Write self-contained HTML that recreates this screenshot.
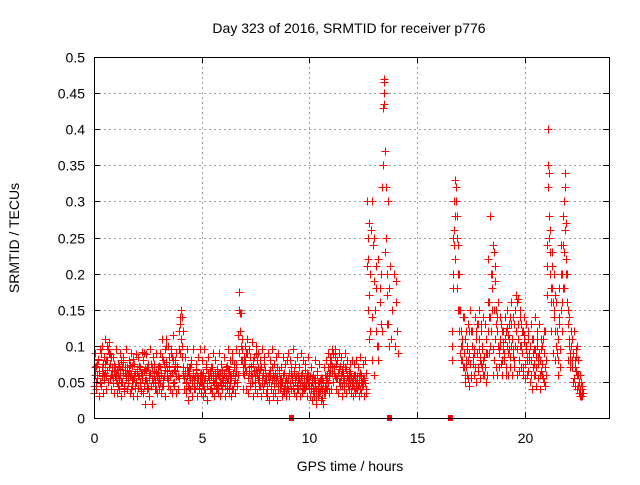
<!DOCTYPE html>
<html><head><meta charset="utf-8"><style>
html,body{margin:0;padding:0;background:#fff;}
svg text{font-family:"Liberation Sans",sans-serif;font-size:14px;fill:#000;}
</style></head><body>
<svg id="chart" width="640" height="480" xmlns="http://www.w3.org/2000/svg">
<rect width="640" height="480" fill="#fff"/>
<text x="349" y="33" text-anchor="middle">Day 323 of 2016, SRMTID for receiver p776</text>
<text x="350" y="471" text-anchor="middle">GPS time / hours</text>
<text x="0" y="0" transform="translate(19,238) rotate(-90)" text-anchor="middle">SRMTID / TECUs</text>
<g id="grid"></g><g id="marks"></g><g id="axes"></g>
</svg>
<script>
const xTicks=[0,5,10,15,20];
const yTicks=[0,0.05,0.1,0.15,0.2,0.25,0.3,0.35,0.4,0.45,0.5];
const yTickLabels=["0","0.05","0.1","0.15","0.2","0.25","0.3","0.35","0.4","0.45","0.5"];
// segment 1: t = 0 .. 12.6 step 0.05, values in milli-TECU
const seg1Start=0;
const seg1A=[45,60,72,55,80,65,50,70,62,85,75,58,66,95,105,88,60,70,55,65,
60,48,75,55,68,80,50,62,45,70,58,66,52,74,60,45,82,55,63,50,
65,42,58,70,38,60,90,52,66,48,75,55,62,45,70,85,58,50,64,48,
55,70,62,45,80,58,95,110,65,52,72,60,85,48,66,75,90,70,58,55,
130,150,100,120,65,50,70,45,60,55,75,48,62,52,40,68,58,45,60,50,
48,62,40,55,70,45,58,52,65,42,60,48,55,50,68,44,58,62,46,55,
50,60,45,72,55,65,48,58,40,62,70,52,75,45,115,175,145,95,70,60,
80,65,90,55,70,85,60,48,75,58,66,80,52,62,45,70,55,60,48,66,
52,40,62,58,45,70,35,55,62,48,58,40,66,52,45,60,42,50,38,48,
55,62,48,70,58,45,65,52,40,60,55,48,58,62,42,50,66,45,55,60,
48,40,55,35,52,45,30,60,42,50,38,55,28,48,60,42,52,70,58,65,
80,72,90,62,58,75,55,68,50,60,45,62,52,70,48,58,45,55,62,50,
55,42,60,48,52,45,58,40,60,50,45,55,62];
const seg1B=[70,50,60,82,65,48,90,58,75,52,62,80,100,70,55,85,60,48,75,58,
52,66,45,72,60,50,78,42,62,55,70,48,65,58,40,72,52,60,45,68,
58,72,48,62,55,80,45,68,52,70,42,60,75,55,48,65,52,40,58,62,
72,48,60,85,52,66,78,55,100,70,58,90,62,80,50,65,58,72,95,140,
110,85,70,55,62,48,58,65,42,70,52,60,45,58,66,48,55,42,50,62,
60,45,52,68,48,62,55,40,58,70,50,46,62,55,42,60,50,48,66,52,
62,48,58,50,68,42,60,55,80,48,58,65,50,60,90,145,100,80,62,75,
70,90,55,62,48,72,58,80,65,50,88,60,70,55,68,48,62,75,52,58,
45,58,50,66,40,52,60,45,55,70,48,62,45,55,50,38,62,45,55,42,
40,48,60,55,42,62,50,58,46,52,70,45,60,48,56,42,55,62,48,50,
58,45,50,42,38,55,40,48,35,52,45,40,50,35,45,55,60,48,62,75,
62,88,70,95,55,80,62,50,72,58,65,55,48,68,60,52,65,48,58,45,
48,60,52,42,58,48,62,50,45,55,52,48,40];
const seg1C=[35,90,40,75,30,95,45,100,35,60,110,40,80,50,90,75,40,85,35,70,
95,35,60,40,90,30,70,85,38,95,40,60,80,35,90,55,30,75,42,88,
30,85,50,40,92,35,65,20,88,40,70,30,95,45,20,75,40,90,35,70,
40,90,35,110,45,75,30,100,45,85,40,95,35,115,45,80,35,70,40,120,
90,140,60,40,85,35,95,25,70,40,80,30,95,40,75,30,85,40,95,35,
80,30,95,35,75,25,85,40,70,35,90,30,80,40,65,35,90,30,75,40,
85,30,70,40,95,35,80,30,90,40,75,35,95,60,150,120,80,110,40,85,
100,40,110,35,95,45,105,30,85,40,100,35,90,45,80,30,95,40,85,35,
30,90,25,80,40,95,30,75,35,85,25,90,40,70,30,85,35,75,30,80,
90,30,80,40,95,35,75,30,85,40,70,30,90,35,80,40,75,30,85,40,
30,70,25,60,30,80,20,65,30,75,25,55,20,70,35,80,40,90,35,85,
40,95,50,85,40,80,35,90,45,85,30,75,40,90,35,80,40,75,35,80,
30,75,35,80,40,70,30,85,35,75,30,80,35];
// burst segment: explicit times and values
const burstT=[12.65,12.7,12.72,12.75,12.8,12.85,12.9,12.95,13.0,13.05,13.1,13.15,13.2,13.25,13.3,13.35,13.4,13.42,13.45,13.47,13.5,13.55,13.6,13.65,13.7,13.8,13.85,13.9,14.0,14.05,14.1,12.7,12.8,12.9,13.0,12.75,13.3,13.5,13.55,13.1,13.2,13.65,13.75,13.6,13.45,13.45,12.68,12.78,12.88,12.98,13.08,13.18,13.28,13.38,13.58,13.68,13.95,14.02];
const burstV=[0.30,0.25,0.22,0.27,0.20,0.26,0.30,0.24,0.19,0.15,0.12,0.10,0.08,0.18,0.20,0.32,0.35,0.43,0.47,0.45,0.37,0.25,0.17,0.13,0.10,0.11,0.15,0.20,0.19,0.12,0.09,0.15,0.12,0.08,0.06,0.11,0.13,0.23,0.32,0.21,0.10,0.30,0.21,0.13,0.435,0.465,0.21,0.17,0.14,0.25,0.18,0.22,0.16,0.12,0.20,0.18,0.10,0.16];
// segment 3: t = 16.6 .. step 0.05
const seg3Start=16.6;
const seg3A=[80,250,300,330,320,280,240,200,150,120,100,
90,110,70,95,80,120,75,60,100,85,90,70,110,130,95,80,75,100,60,85,
70,110,90,220,160,140,180,240,230,190,150,120,100,95,110,130,80,105,90,120,
100,115,95,85,130,110,95,80,100,120,160,165,140,100,90,120,105,75,95,80,
65,90,100,80,70,95,60,85,110,75,90,80,65,100,55,90,120,240,400,340,
260,180,210,160,140,120,100,90,110,130,150,200,240,300,340,270,200,130,110,90,
100,80,90,70,85,60,45,35,40,50,30];
const seg3B=[100,200,260,220,180,150,120,90,80,110,140,
70,60,80,100,55,90,120,100,75,95,140,120,90,70,110,85,130,95,80,70,
90,60,120,140,100,200,150,95,80,110,70,140,90,100,75,120,95,85,110,70,
125,90,110,140,100,85,130,150,120,95,110,80,100,130,90,70,115,100,85,110,
80,100,60,110,90,75,95,70,100,85,60,95,75,110,50,70,60,170,350,250,
200,160,230,150,170,100,120,80,140,95,200,160,180,230,260,220,150,100,80,120,
70,90,55,80,65,100,60,50,30,40,35];
const seg3C=[120,180,240,280,300,250,200,150,100,80,70,
140,50,120,60,130,45,150,55,120,60,140,50,130,65,150,55,120,70,140,60,
130,50,160,90,280,120,200,60,150,210,130,60,160,70,140,60,120,80,140,60,
150,60,130,70,160,60,140,70,170,60,130,65,150,70,120,60,140,55,130,60,
120,50,130,40,110,60,140,45,120,55,130,40,110,60,120,45,80,210,320,280,
230,120,180,90,200,80,160,60,180,70,240,120,280,180,320,200,160,80,140,70,
110,50,120,45,95,40,80,35,60,30,45];
const step=0.05;
const gapMarkT=[9.15,13.7,16.5];

const L=94,R=609,T=57,B=418,XMAX=23.9,YMAX=0.5;
const xs=t=>L+t/XMAX*(R-L);
const ys=v=>B-v/YMAX*(B-T);
const NS="http://www.w3.org/2000/svg";
function mk(tag,attrs,parent){const e=document.createElementNS(NS,tag);for(const k in attrs)e.setAttribute(k,attrs[k]);parent.appendChild(e);return e;}
const grid=document.getElementById('grid'),marks=document.getElementById('marks'),axes=document.getElementById('axes');
yTicks.forEach((v,i)=>{
  const y=Math.round(ys(v))+0.5;
  if(i>0&&i<yTicks.length-1){const g=mk('line',{x1:L,x2:R,y1:y,y2:y,stroke:'#a0a0a0','stroke-dasharray':'2,3'},grid);
  
  }
  mk('line',{x1:L,x2:L+6,y1:y,y2:y,stroke:'#000'},axes);
  mk('line',{x1:R-6,x2:R,y1:y,y2:y,stroke:'#000'},axes);
  const t=mk('text',{x:L-9,y:y+5,'text-anchor':'end'},axes);t.textContent=yTickLabels[i];
  
  
});
xTicks.forEach(v=>{
  const x=Math.round(xs(v))+0.5;
  if(v>0){const g=mk('line',{x1:x,x2:x,y1:T,y2:B,stroke:'#a0a0a0','stroke-dasharray':'2,3'},grid);
  
  }
  mk('line',{x1:x,x2:x,y1:B,y2:B-6,stroke:'#000'},axes);
  mk('line',{x1:x,x2:x,y1:T,y2:T+6,stroke:'#000'},axes);
  const t=mk('text',{x:x,y:B+25,'text-anchor':'middle'},axes);t.textContent=String(v);
  
  
});
const frame=mk('rect',{x:L+0.5,y:T+0.5,width:R-L,height:B-T,fill:'none',stroke:'#000'},axes);


let d='';
function plus(t,v){const x=Math.round(xs(t))+0.5,y=Math.round(ys(v))+0.5;d+=`M${x-4} ${y}h8M${x} ${y-4}v8`;}
seg1A.forEach((v,i)=>plus(seg1Start+i*step,v/1000));
seg1B.forEach((v,i)=>plus(seg1Start+i*step+0.025,v/1000));
seg1C.forEach((v,i)=>plus(seg1Start+i*step+0.012,v/1000));
burstT.forEach((t,i)=>plus(t,burstV[i]));
seg3A.forEach((v,i)=>plus(seg3Start+i*step,v/1000));
seg3B.forEach((v,i)=>plus(seg3Start+i*step+0.025,v/1000));
seg3C.forEach((v,i)=>plus(seg3Start+i*step+0.012,v/1000));
const p=mk('path',{d:d,stroke:'#ff0000','stroke-width':1,fill:'none'},marks);


gapMarkT.forEach(t=>{
  const r=mk('rect',{x:Math.round(xs(t))-2,y:B-3,width:5,height:6,fill:'#ff0000'},marks);
  
  
});
</script>
</body></html>
